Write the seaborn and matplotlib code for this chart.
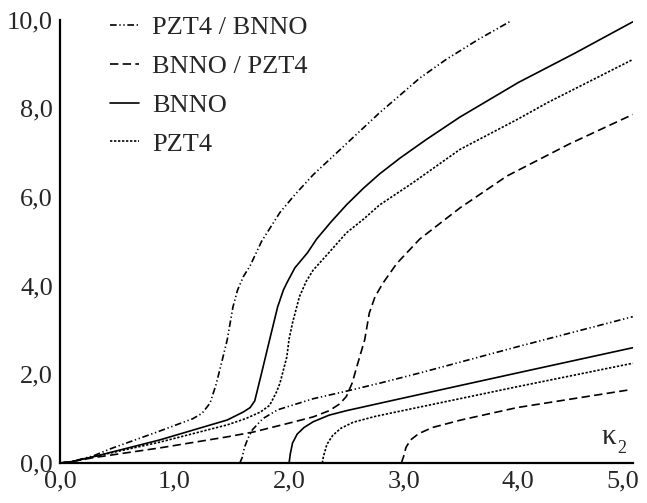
import matplotlib
matplotlib.use("Agg")
from matplotlib import pyplot as plt
from matplotlib.transforms import ScaledTranslation
import seaborn as sns

# lower branches (start at the origin)
pb1_x = [0, 0.1, 0.29, 0.44, 0.87, 1.16, 1.24, 1.31, 1.36, 1.40, 1.46, 1.51, 1.55, 1.60, 1.66, 1.76, 1.92, 2.05, 2.21, 2.50, 2.79, 2.97, 3.14, 3.37, 3.65, 3.93]
pb1_y = [0, 0.03, 0.16, 0.32, 0.72, 1.0, 1.12, 1.35, 1.75, 2.15, 2.78, 3.52, 3.9, 4.2, 4.45, 5.0, 5.65, 6.05, 6.5, 7.2, 7.9, 8.3, 8.68, 9.1, 9.55, 9.96]

bn1_x = [0, 0.1, 0.29, 0.87, 1.46, 1.60, 1.66, 1.70, 1.76, 1.83, 1.90, 1.95, 1.98, 2.05, 2.16, 2.24, 2.36, 2.50, 2.65, 2.79, 2.97, 3.20, 3.49, 4.0, 4.5, 5.0]
bn1_y = [0, 0.03, 0.14, 0.52, 0.97, 1.15, 1.25, 1.4, 2.03, 2.78, 3.52, 3.9, 4.06, 4.4, 4.74, 5.05, 5.42, 5.82, 6.2, 6.52, 6.88, 7.3, 7.8, 8.58, 9.25, 9.95]

pz1_x = [0, 0.1, 0.29, 0.87, 1.46, 1.62, 1.75, 1.83, 1.89, 1.92, 1.98, 2.0, 2.03, 2.09, 2.15, 2.21, 2.36, 2.50, 2.65, 2.79, 3.08, 3.49, 4.0, 4.25, 5.0]
pz1_y = [0, 0.03, 0.14, 0.47, 0.86, 1.0, 1.15, 1.3, 1.6, 1.8, 2.39, 2.8, 3.16, 3.75, 4.1, 4.35, 4.78, 5.19, 5.5, 5.82, 6.32, 7.07, 7.76, 8.12, 9.1]

bp1_x = [0, 0.1, 0.29, 0.87, 1.46, 1.69, 2.0, 2.21, 2.35, 2.44, 2.50, 2.55, 2.60, 2.66, 2.70, 2.75, 2.82, 2.94, 3.14, 3.49, 3.90, 4.45, 5.0]
bp1_y = [0, 0.03, 0.12, 0.34, 0.59, 0.70, 0.9, 1.04, 1.18, 1.33, 1.5, 1.8, 2.25, 2.78, 3.38, 3.75, 4.06, 4.5, 5.05, 5.75, 6.47, 7.2, 7.86]

# upper branches (start at cut-off)
pb2_x = [1.57, 1.59, 1.61, 1.64, 1.68, 1.77, 1.90, 2.21, 2.50, 2.79, 3.14, 3.99, 5.0]
pb2_y = [0, 0.12, 0.35, 0.55, 0.75, 1.0, 1.2, 1.45, 1.62, 1.8, 2.03, 2.62, 3.3]

bn2_x = [2.0, 2.01, 2.03, 2.07, 2.13, 2.21, 2.35, 2.5, 2.97, 3.99, 5.0]
bn2_y = [0, 0.2, 0.45, 0.65, 0.8, 0.93, 1.08, 1.18, 1.45, 2.03, 2.6]

pz2_x = [2.29, 2.30, 2.33, 2.38, 2.45, 2.56, 2.75, 2.97, 3.99, 5.0]
pz2_y = [0, 0.15, 0.42, 0.62, 0.78, 0.92, 1.05, 1.17, 1.72, 2.25]

bp2_x = [2.98, 3.0, 3.02, 3.06, 3.13, 3.25, 3.5, 3.99, 4.97]
bp2_y = [0, 0.15, 0.35, 0.52, 0.66, 0.8, 0.97, 1.25, 1.65]

labels = ["PZT4 / BNNO", "BNNO / PZT4", "BNNO", "PZT4"]
yticks = [0, 2, 4, 6, 8, 10]
ytick_labels = ["0,0", "2,0", "4,0", "6,0", "8,0", "10,0"]
xticks = [0, 1, 2, 3, 4, 5]
xtick_labels = ["0,0", "1,0", "2,0", "3,0", "4,0", "5,0"]

sns.set_style("white")
plt.rcParams["font.family"] = ["Liberation Serif", "DejaVu Serif"]

fig = plt.figure(figsize=(6.47, 5.03), dpi=100)
ax = fig.add_axes([0.0927, 0.0795, 0.8853, 0.8815])

styles = [
    (0, (4, 1.6, 0.8, 1.6, 0.8, 1.6)),
    (0, (5, 2.6)),
    "-",
    (0, (1.4, 1.0)),
]
branches = [
    (pb1_x, pb1_y, pb2_x, pb2_y),
    (bp1_x, bp1_y, bp2_x, bp2_y),
    (bn1_x, bn1_y, bn2_x, bn2_y),
    (pz1_x, pz1_y, pz2_x, pz2_y),
]
for (x1, y1, x2, y2), ls, lab in zip(branches, styles, labels):
    sns.lineplot(x=x1, y=y1, ax=ax, color="black", linewidth=1.2, linestyle=ls,
                 sort=False, estimator=None, label=lab)
    sns.lineplot(x=x2, y=y2, ax=ax, color="black", linewidth=1.2, linestyle=ls,
                 sort=False, estimator=None)

ax.set_xlim(0, 5)
ax.set_ylim(0, 10)
ax.set_xticks(xticks)
ax.set_xticklabels(xtick_labels)
ax.set_yticks(yticks)
ax.set_yticklabels(ytick_labels)
ax.tick_params(direction="in", length=6, width=1.3, labelsize=19, pad=5)
# last x label sits a bit left so it stays inside the figure
last = ax.get_xticklabels()[-1]
last.set_transform(last.get_transform() + ScaledTranslation(-0.1, 0, fig.dpi_scale_trans))
for s in ["top", "right"]:
    ax.spines[s].set_visible(False)
for s in ["left", "bottom"]:
    ax.spines[s].set_linewidth(1.6)
    ax.spines[s].set_color("black")

# axis label kappa_2 inside the plot
ax.text(4.73, 0.42, "κ", fontsize=21, ha="left", va="baseline")
ax.text(4.865, 0.22, "2", fontsize=13, ha="left", va="baseline")

ax.legend(loc="upper left", bbox_to_anchor=(0.045, 1.062), frameon=False,
          fontsize=19, handlelength=1.1, handletextpad=0.5, labelspacing=0.58)

fig.savefig("out.png", dpi=100)
